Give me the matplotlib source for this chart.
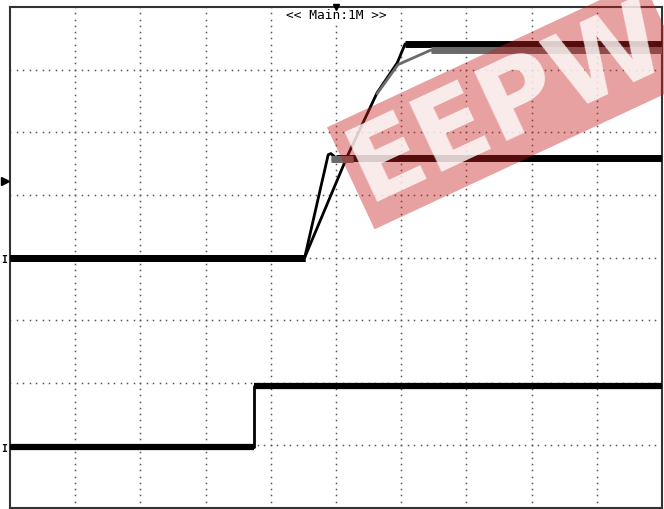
import matplotlib.pyplot as plt
import numpy as np

# scope screen: 10 x 8 divisions
n_xdiv, n_ydiv = 10, 8

# bottom channel (digital step)
step_t = [0.0, 3.74, 3.74, 10.0]
step_v = [0.98, 0.98, 1.95, 1.95]

# fast trace (black, settles at lower level)
fast_t = [0.0, 4.52, 4.88, 4.92, 5.0, 10.0]
fast_v = [4.0, 4.0, 5.64, 5.66, 5.59, 5.59]

# slow trace (black, settles at upper level)
slow_t = [0.0, 4.52, 5.17, 5.63, 5.94, 6.06, 10.0]
slow_v = [4.0, 4.0, 5.61, 6.63, 7.11, 7.41, 7.41]

# gray (reference) pieces
ref_low_t = [4.92, 5.26]
ref_low_v = [5.58, 5.58]
ref_up_t = [5.62, 5.95, 6.45, 10.0]
ref_up_v = [6.6, 7.08, 7.31, 7.31]

ground_levels = [4.0, 0.98]
trig_level = 5.22
label = "<< Main:1M >>"

fig = plt.figure(figsize=(6.64, 5.09), dpi=100)
ax = fig.add_axes([10 / 664, 1 / 509, 652 / 664, 501 / 509])
ax.set_xlim(0, n_xdiv)
ax.set_ylim(0, n_ydiv)
ax.set_xticks([])
ax.set_yticks([])
for s in ax.spines.values():
    s.set_color('#333333')
    s.set_linewidth(1.5)

# dotted graticule
dots = np.arange(0, n_ydiv + 0.001, 0.1)
for i in range(1, n_xdiv):
    ax.plot(np.full_like(dots, i), dots, ls='none', marker='s', ms=1.1,
            color='#555555', mew=0, zorder=1)
dots = np.arange(0, n_xdiv + 0.001, 0.1)
for j in range(1, n_ydiv):
    ax.plot(dots, np.full_like(dots, j), ls='none', marker='s', ms=1.1,
            color='#555555', mew=0, zorder=1)


def trace(t, v, color, thin=2.0, thick=5.0, z=3):
    ax.plot(t, v, color=color, lw=thin, zorder=z, solid_capstyle='butt')
    # flat parts drawn thicker (noise band)
    for k in range(len(t) - 1):
        if v[k] == v[k + 1] and t[k + 1] > t[k]:
            ax.plot(t[k:k + 2], v[k:k + 2], color=color, lw=thick, zorder=z,
                    solid_capstyle='butt')


trace(step_t, step_v, 'black', thick=4.5)
trace(fast_t, fast_v, 'black')
trace(slow_t, slow_v, 'black')
trace(ref_low_t, ref_low_v, '#6a6a6a', z=4)
trace(ref_up_t, ref_up_v, '#6a6a6a', z=4)

# top label
ax.text(5, 7.87, label, family='DejaVu Sans Mono', fontsize=9.3,
        ha='center', va='center', zorder=5,
        bbox=dict(facecolor='white', edgecolor='none', pad=0.5))
# trigger position marker
ax.plot([5], [8.0], marker='v', ms=4, color='black', clip_on=False, zorder=6)
# trigger level marker
ax.plot([-0.08], [trig_level], marker='>', ms=6, color='black',
        clip_on=False, zorder=6)
# channel ground markers
for g in ground_levels:
    ax.text(-0.09, g - 0.04, 'I', family='DejaVu Sans Mono', fontsize=7,
            fontweight='bold', ha='center', va='center', clip_on=False)

# watermark
wm = dict(rotation=25, rotation_mode='anchor', ha='left', va='center',
          fontsize=76, fontweight='heavy', zorder=8)
ax.text(5.3, 5.3, 'EEPW', color='none',
        bbox=dict(facecolor=(0.79, 0.12, 0.12), alpha=0.42,
                  edgecolor='none', pad=4), **wm)
ax.text(5.3, 5.3, 'EEPW', color='white', alpha=0.8, **wm)

fig.savefig('out.png', dpi=100)
